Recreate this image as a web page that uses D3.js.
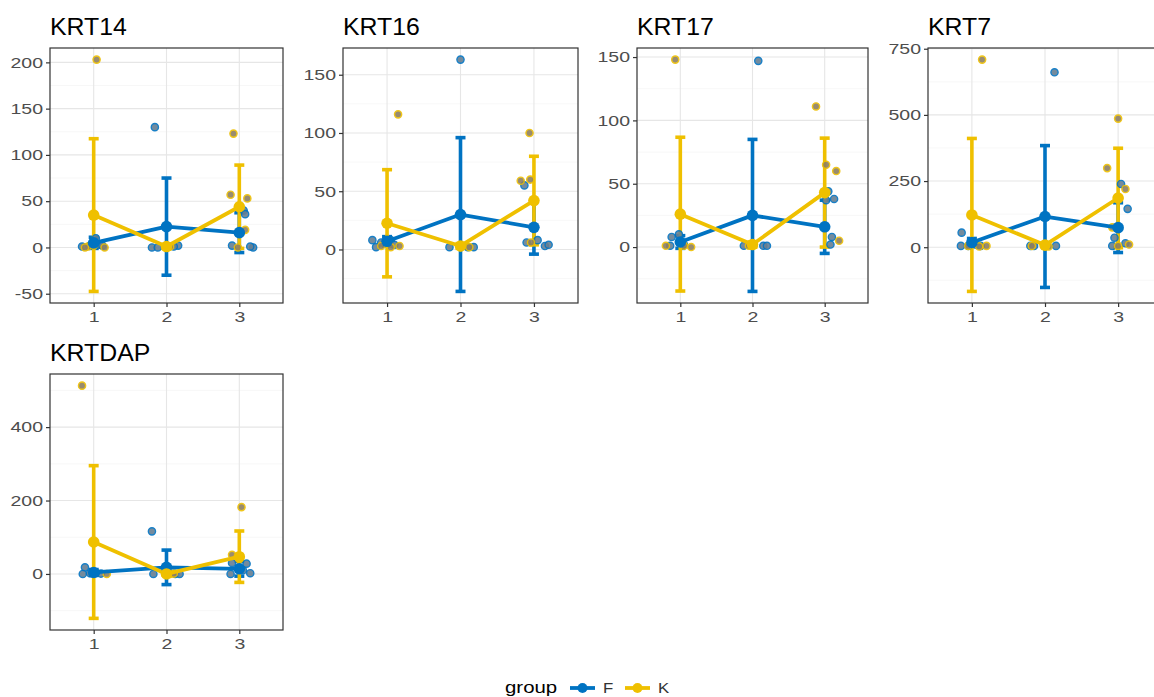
<!DOCTYPE html>
<html>
<head>
<meta charset="utf-8">
<script src="https://cdn.jsdelivr.net/npm/d3@7"></script>
<style>
  html, body { margin: 0; padding: 0; background: #ffffff; }
  svg { display: block; font-family: "Liberation Sans", Arial, Helvetica, sans-serif; }
</style>
</head>
<body>
<svg id="chart" width="1154" height="697"></svg>
<script>
// Keratin gene expression by timepoint, F vs K groups (mean ± SD with jittered samples)
const genes = ["KRT14", "KRT16", "KRT17", "KRT7", "KRTDAP"];
const timepoints = ["1", "2", "3"];
const groups = ["F", "K"];
const groupColors = ["#0073C2", "#EFC000"];

// per gene: y-axis tick values
const yTicks = [
  [-50, 0, 50, 100, 150, 200],
  [0, 50, 100, 150],
  [0, 50, 100, 150],
  [0, 250, 500, 750],
  [0, 200, 400]
];

// group means per timepoint (rows follow `genes`)
const meanF = [[5, 22.5, 16], [7, 30, 19], [4, 25, 16], [18, 116, 74], [4, 18, 14]];
const sdF   = [[6, 52.5, 21.5], [4, 66, 23], [5, 60, 21], [15, 268, 94], [8, 47, 20]];
const meanK = [[35, 1, 44], [22.5, 3, 42], [26, 2, 43], [122, 8, 186], [87, 0, 47]];
const sdK   = [[82.5, 2, 45], [46, 2, 38], [60.7, 2, 43], [289, 6, 188], [208, 3, 70]];

// individual samples: [timepoint, jitter offset, value]
const KRT14_F = [[1,-0.16,1],[1,-0.05,2],[1,0.03,10],[1,0.08,3],[1,0.12,2],[2,-0.16,130],[2,-0.2,0],[2,-0.12,0],[2,0.16,2],[2,0.1,1],[3,0.06,40],[3,0.08,36],[3,-0.1,2],[3,0.19,0],[3,0.15,1]];
const KRT14_K = [[1,0.04,203],[1,-0.08,1],[1,0.15,0],[1,0.0,2],[1,-0.12,0],[2,0.0,0],[2,0.05,1],[3,-0.08,123],[3,-0.12,57],[3,0.11,53],[3,0.08,19],[3,-0.02,0]];
const KRT16_F = [[1,-0.2,8],[1,-0.15,2],[1,-0.08,6],[1,0.05,8],[1,0.1,4],[2,0.0,163],[2,-0.15,2],[2,0.18,2],[2,0.1,2],[3,-0.13,55],[3,-0.1,6],[3,0.15,3],[3,0.2,4],[3,0.05,8]];
const KRT16_K = [[1,0.15,116],[1,0.17,3],[1,-0.08,3],[1,0.05,2],[2,0.0,2],[2,0.12,2],[3,-0.06,100],[3,-0.18,59],[3,-0.05,60],[3,-0.04,6]];
const KRT17_F = [[1,-0.12,8],[1,-0.14,1],[1,-0.02,10],[1,0.05,2],[2,0.08,147],[2,-0.12,1],[2,0.15,1],[2,0.2,1],[3,0.05,44],[3,0.13,38],[3,0.02,37],[3,0.1,8],[3,0.08,2]];
const KRT17_K = [[1,-0.07,148],[1,-0.2,1],[1,0.15,0],[1,0.05,1],[2,0.0,1],[2,-0.05,1],[3,-0.12,111],[3,0.02,65],[3,0.16,60],[3,0.2,5]];
const KRT7_F = [[1,-0.14,55],[1,-0.15,5],[1,-0.05,5],[1,0.12,5],[1,0.05,10],[2,0.13,661],[2,-0.2,5],[2,-0.15,5],[2,0.15,5],[3,0.04,239],[3,0.13,145],[3,-0.05,36],[3,0.1,15],[3,-0.08,5]];
const KRT7_K = [[1,0.14,709],[1,0.2,5],[1,-0.05,5],[1,0.1,3],[2,-0.18,5],[2,0.05,3],[3,0.0,486],[3,-0.15,299],[3,0.1,220],[3,-0.08,75],[3,0.15,10],[3,0.0,5]];
const KRTDAP_F = [[1,-0.12,18],[1,-0.15,0],[1,-0.05,2],[1,0.1,1],[1,0.03,3],[2,-0.2,116],[2,-0.18,0],[2,0.12,0],[2,0.18,0],[3,-0.1,30],[3,0.1,28],[3,0.15,2],[3,-0.12,0],[3,0.05,10]];
const KRTDAP_K = [[1,-0.16,513],[1,0.18,0],[1,0.0,2],[2,0.05,0],[2,0.1,1],[3,0.03,182],[3,-0.1,52],[3,0.0,40]];

const samplesF = [KRT14_F, KRT16_F, KRT17_F, KRT7_F, KRTDAP_F];
const samplesK = [KRT14_K, KRT16_K, KRT17_K, KRT7_K, KRTDAP_K];

// ---- layout ----
const panels = [
  { left: 50,  right: 283,  top: 48,  bottom: 303 },
  { left: 343, right: 578,  top: 48,  bottom: 303 },
  { left: 637, right: 868,  top: 48,  bottom: 303 },
  { left: 928, right: 1162, top: 48,  bottom: 303 },
  { left: 50,  right: 283,  top: 374, bottom: 630 }
];
const tickFont = 15, tickStretch = 1.3;
const titleFont = 23, titleStretch = 1.08;

const svg = d3.select("#chart");

genes.forEach((gene, gi) => {
  const p = panels[gi];
  const g = svg.append("g");

  const x = d3.scalePoint().domain(timepoints).range([p.left, p.right]).padding(0.6);
  const step = x.step();
  const xPos = (t, off) => x(String(t)) + off * step;

  // y extent from samples and error bars, expanded 5% each side
  const vals = [];
  [samplesF[gi], samplesK[gi]].forEach(s => s.forEach(d => vals.push(d[2])));
  [[meanF, sdF], [meanK, sdK]].forEach(([m, s]) => m[gi].forEach((v, i) => { vals.push(v + s[gi][i]); vals.push(v - s[gi][i]); }));
  const [lo, hi] = d3.extent(vals);
  const pad = (hi - lo) * 0.05;
  const y = d3.scaleLinear().domain([lo - pad, hi + pad]).range([p.bottom, p.top]);

  const clipId = "clip" + gi;
  g.append("clipPath").attr("id", clipId).append("rect")
    .attr("x", p.left).attr("y", p.top).attr("width", p.right - p.left).attr("height", p.bottom - p.top);

  const plot = g.append("g").attr("clip-path", `url(#${clipId})`);

  // minor grid (midpoints between major ticks)
  const ticks = yTicks[gi];
  const tstep = ticks[1] - ticks[0];
  const minor = [];
  for (let v = ticks[0] - tstep / 2; v <= y.domain()[1]; v += tstep) if (v >= y.domain()[0]) minor.push(v);
  plot.selectAll(".minor").data(minor).join("line")
    .attr("x1", p.left).attr("x2", p.right)
    .attr("y1", d => y(d)).attr("y2", d => y(d))
    .attr("stroke", "#f2f2f2").attr("stroke-width", 0.6);
  plot.selectAll(".majorY").data(ticks).join("line")
    .attr("x1", p.left).attr("x2", p.right)
    .attr("y1", d => y(d)).attr("y2", d => y(d))
    .attr("stroke", "#e6e6e6").attr("stroke-width", 1.1);
  plot.selectAll(".majorX").data(timepoints).join("line")
    .attr("x1", d => x(d)).attr("x2", d => x(d))
    .attr("y1", p.top).attr("y2", p.bottom)
    .attr("stroke", "#e6e6e6").attr("stroke-width", 1.1);

  const series = [
    { mean: meanF[gi], sd: sdF[gi], pts: samplesF[gi], color: groupColors[0], fill: "#667f93" },
    { mean: meanK[gi], sd: sdK[gi], pts: samplesK[gi], color: groupColors[1], fill: "#8f8060" }
  ];

  // error bars
  series.forEach(s => {
    const eb = plot.append("g");
    s.mean.forEach((m, i) => {
      const cx = x(timepoints[i]);
      const y1 = y(m + s.sd[i]), y0 = y(m - s.sd[i]);
      eb.append("line").attr("x1", cx).attr("x2", cx).attr("y1", y1).attr("y2", y0)
        .attr("stroke", s.color).attr("stroke-width", 3.6);
      [y1, y0].forEach(yy => eb.append("line")
        .attr("x1", cx - 5).attr("x2", cx + 5).attr("y1", yy).attr("y2", yy)
        .attr("stroke", s.color).attr("stroke-width", 3.6));
    });
  });

  // jittered samples
  series.forEach(s => {
    plot.append("g").selectAll("circle").data(s.pts).join("circle")
      .attr("cx", d => xPos(d[0], d[1]))
      .attr("cy", d => y(d[2]))
      .attr("r", 3.6)
      .attr("fill", s.fill)
      .attr("stroke", s.color)
      .attr("stroke-width", 1.4)
      .attr("opacity", 0.9);
  });

  // mean lines and points
  const line = d3.line().x((d, i) => x(timepoints[i])).y(d => y(d));
  series.forEach(s => {
    plot.append("path").datum(s.mean).attr("d", line)
      .attr("fill", "none").attr("stroke", s.color).attr("stroke-width", 3.8)
      .attr("stroke-linejoin", "round");
  });
  series.forEach(s => {
    plot.append("g").selectAll("circle").data(s.mean).join("circle")
      .attr("cx", (d, i) => x(timepoints[i])).attr("cy", d => y(d))
      .attr("r", 5.8).attr("fill", s.color);
  });

  // panel border
  g.append("rect").attr("x", p.left).attr("y", p.top)
    .attr("width", p.right - p.left).attr("height", p.bottom - p.top)
    .attr("fill", "none").attr("stroke", "#333333").attr("stroke-width", 1.2);

  // axes
  const yAxis = g.append("g").attr("transform", `translate(${p.left},0)`)
    .call(d3.axisLeft(y).tickValues(ticks).tickSize(4).tickPadding(3).tickFormat(d3.format("d")));
  const xAxis = g.append("g").attr("transform", `translate(0,${p.bottom})`)
    .call(d3.axisBottom(x).tickSize(4).tickPadding(4));
  [yAxis, xAxis].forEach(a => {
    a.select(".domain").remove();
    a.selectAll(".tick line").attr("stroke", "#333333").attr("stroke-width", 1.2);
    a.selectAll(".tick text").attr("fill", "#4d4d4d").style("font-size", tickFont + "px")
      .style("font-family", "'Liberation Sans', Arial, sans-serif")
      .attr("transform", `scale(${tickStretch},1)`);
  });
  yAxis.selectAll(".tick text").attr("x", -7 / tickStretch)
    .text(d => d < 0 ? "-" + Math.abs(d) : d);

  // title
  g.append("text").attr("transform", `translate(${p.left},${p.top - 13}) scale(${titleStretch},1)`)
    .attr("fill", "#000000").style("font-size", titleFont + "px").text(gene);
});

// legend
const legend = svg.append("g");
legend.append("text").attr("transform", "translate(505,693) scale(1.2,1)").attr("fill", "#000000")
  .style("font-size", "17px").text("group");
const keyX = [570, 625];
groups.forEach((grp, i) => {
  const kx = keyX[i];
  legend.append("line").attr("x1", kx).attr("x2", kx + 25).attr("y1", 688).attr("y2", 688)
    .attr("stroke", groupColors[i]).attr("stroke-width", 3.8);
  legend.append("circle").attr("cx", kx + 12.5).attr("cy", 688).attr("r", 5).attr("fill", groupColors[i]);
  legend.append("text").attr("transform", `translate(${kx + 33},693) scale(1.2,1)`).attr("fill", "#333333")
    .style("font-size", "14px").text(grp);
});
</script>
</body>
</html>
